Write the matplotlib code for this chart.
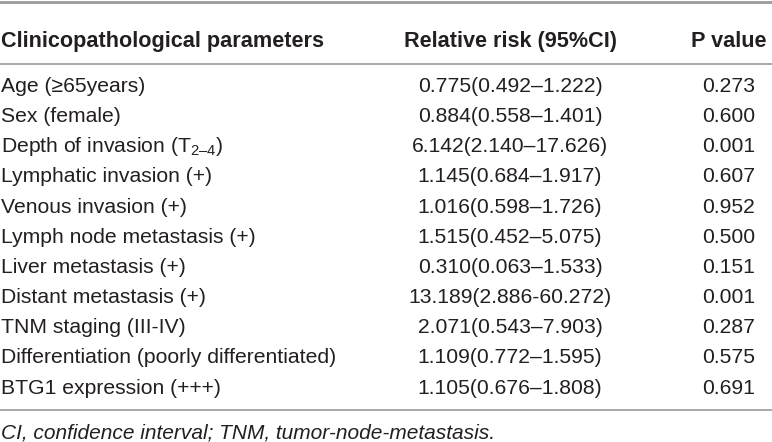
import matplotlib
matplotlib.use("Agg")
import matplotlib.pyplot as plt

plt.rcParams['font.family'] = ['Liberation Sans', 'DejaVu Sans']
plt.rcParams['mathtext.fontset'] = 'custom'
plt.rcParams['mathtext.rm'] = 'Liberation Sans'
plt.rcParams['mathtext.it'] = 'Liberation Sans:italic'

headers = ["Clinicopathological parameters", "Relative risk (95%CI)", "P value"]
parameters = [
    "Age (≥65years)",
    "Sex (female)",
    "Depth of invasion (T$_{\\mathrm{2–4}}$)",
    "Lymphatic invasion (+)",
    "Venous invasion (+)",
    "Lymph node metastasis (+)",
    "Liver metastasis (+)",
    "Distant metastasis (+)",
    "TNM staging (III-IV)",
    "Differentiation (poorly differentiated)",
    "BTG1 expression (+++)",
]
relative_risk = [
    "0.775(0.492–1.222)",
    "0.884(0.558–1.401)",
    "6.142(2.140–17.626)",
    "1.145(0.684–1.917)",
    "1.016(0.598–1.726)",
    "1.515(0.452–5.075)",
    "0.310(0.063–1.533)",
    "13.189(2.886-60.272)",
    "2.071(0.543–7.903)",
    "1.109(0.772–1.595)",
    "1.105(0.676–1.808)",
]
p_values = ["0.273", "0.600", "0.001", "0.607", "0.952", "0.500",
            "0.151", "0.001", "0.287", "0.575", "0.691"]
footnote = "CI, confidence interval; TNM, tumor-node-metastasis."

W, H = 772, 442
fig = plt.figure(figsize=(W / 100, H / 100), dpi=100)
ax = fig.add_axes([0, 0, 1, 1])
ax.set_xlim(0, W)
ax.set_ylim(H, 0)
ax.axis('off')

txt = '#231f20'
line_c = '#9a9a9a'
fs = 15.2
fs_head = 15.6
fs_note = 15

col_x = [1, 510, 729]
header_base = 47
row0 = 92
row_step = 30.15

ax.plot([0, W], [1.5, 1.5], color=line_c, lw=2)
ax.plot([0, W], [64, 64], color=line_c, lw=1.2)
ax.plot([0, W], [410, 410], color=line_c, lw=1.2)

ax.text(col_x[0], header_base, headers[0], fontsize=fs_head, fontweight='bold',
        color=txt, ha='left', va='baseline')
ax.text(col_x[1], header_base, headers[1], fontsize=fs_head, fontweight='bold',
        color=txt, ha='center', va='baseline')
ax.text(col_x[2], header_base, headers[2], fontsize=fs_head, fontweight='bold',
        color=txt, ha='center', va='baseline')

for i, (p, rr, pv) in enumerate(zip(parameters, relative_risk, p_values)):
    y = row0 + i * row_step
    ax.text(col_x[0], y, p, fontsize=fs, color=txt, ha='left', va='baseline')
    ax.text(col_x[1], y, rr, fontsize=fs, color=txt, ha='center', va='baseline')
    ax.text(col_x[2], y, pv, fontsize=fs, color=txt, ha='center', va='baseline')

ax.text(col_x[0], 438.5, footnote, fontsize=fs_note, style='italic',
        color=txt, ha='left', va='baseline')

fig.savefig("out.png", dpi=100)
